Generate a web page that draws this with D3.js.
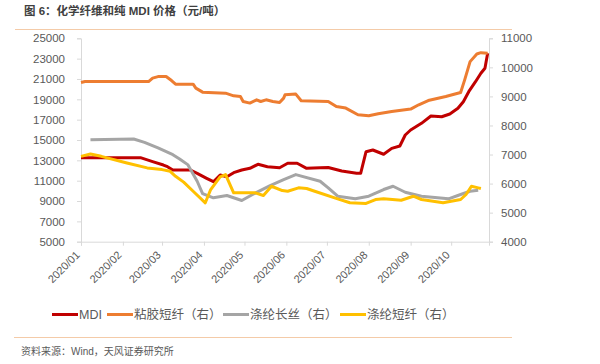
<!DOCTYPE html>
<html><head><meta charset="utf-8">
<script src="https://cdn.jsdelivr.net/npm/d3@7"></script>
<style>
body{margin:0;background:#fff;}
svg{display:block;font-family:"Liberation Sans","Noto Sans CJK SC",sans-serif;}
</style></head>
<body><svg id="c" width="600" height="364"></svg>
<script>
const title = "图 6：化学纤维和纯 MDI 价格（元/吨）";
const source = "资料来源：Wind，天风证券研究所";
const seriesNames = ["MDI","粘胶短纤（右）","涤纶长丝（右）","涤纶短纤（右）"];
const leftTicks = [5000,7000,9000,11000,13000,15000,17000,19000,21000,23000,25000];
const rightTicks = [4000,5000,6000,7000,8000,9000,10000,11000];
const monthTicks = ["2020-01-01","2020-02-01","2020-03-01","2020-04-01","2020-05-01","2020-06-01","2020-07-01","2020-08-01","2020-09-01","2020-10-01"];

const mdiDates = ["01-01","01-15","02-14","02-23","03-02","03-05","03-09","03-14","03-22","03-27","04-03","04-08","04-13","04-18","04-23","04-29","05-05","05-11","05-18","05-27","06-02","06-09","06-16","06-26","07-02","07-12","07-23","07-26","07-30","08-04","08-12","08-18","08-24","08-28","09-01","09-09","09-16","09-24","09-30","10-06","10-10","10-14","10-19","10-23","10-26","10-28"];
const mdiValues = [13260,13260,13260,12870,12540,12374,12050,12050,12050,11725,11234,10900,11558,11390,11785,12050,12217,12610,12374,12276,12710,12710,12217,12276,12300,11950,11725,11725,13850,14017,13600,14180,14410,15490,15983,16640,17360,17290,17556,18117,18766,19750,20732,21558,22050,23525];

const vscDates = ["01-01","01-04","02-20","02-23","02-27","03-04","03-08","03-11","03-24","03-26","03-31","04-17","04-23","04-28","04-30","05-05","05-10","05-13","05-17","05-22","05-27","05-30","05-31","06-08","06-12","07-02","07-08","07-15","07-24","08-01","08-08","08-18","09-01","09-07","09-14","09-27","10-08","10-11","10-15","10-20","10-23","10-28"];
const vscValues = [9477,9511,9511,9628,9683,9683,9545,9422,9422,9284,9147,9113,9020,8996,8825,8770,8883,8825,8883,8825,8790,8941,9055,9079,8849,8825,8653,8598,8368,8334,8403,8482,8564,8712,8859,8996,9133,9569,10197,10461,10506,10485];

const pfyDates = ["01-08","02-09","02-17","02-27","03-09","03-14","03-20","03-27","03-31","04-08","04-18","04-29","05-07","05-20","05-30","06-08","06-26","07-02","07-09","07-22","08-01","08-12","08-19","08-28","09-09","09-29","10-08","10-15","10-21"];
const pfyValues = [7511,7535,7418,7226,6996,6849,6653,6080,5658,5510,5589,5418,5624,5932,6137,6309,6080,5854,5565,5476,5565,5795,5908,5702,5565,5476,5624,5737,5771];

const psfDates = ["01-01","01-08","01-16","02-04","02-19","03-01","03-07","03-11","03-17","03-24","04-02","04-06","04-13","04-17","04-23","04-29","05-09","05-15","05-21","05-29","06-02","06-10","06-16","06-22","07-09","07-18","07-30","08-06","08-12","08-25","09-03","09-09","09-25","10-08","10-12","10-16","10-21","10-23"];
const psfValues = [6938,7020,6938,6711,6540,6481,6423,6251,6050,5737,5339,5795,6231,6310,5682,5682,5682,5589,5908,5761,5737,5853,5830,5737,5476,5339,5315,5452,5476,5428,5565,5452,5339,5452,5624,5908,5853,5830];

const colors = ["#C00000","#ED7D31","#A5A5A5","#FFC000"];

const parse = s => new Date("2020-" + s + "T00:00:00");
const svg = d3.select("#c");

const x = d3.scaleTime().domain([new Date("2020-01-01T00:00:00"), new Date("2020-10-29T00:00:00")]).range([81, 489]);
const yL = d3.scaleLinear().domain([5000,25000]).range([241.7, 38.3]);
const yR = d3.scaleLinear().domain([4000,11000]).range([241.7, 38.3]);

// header
svg.append("text").attr("x",24).attr("y",15).attr("font-size",11.5).attr("font-weight","bold")
  .attr("fill","#404040").text(title);
svg.append("line").attr("x1",15).attr("x2",512).attr("y1",29.5).attr("y2",29.5)
  .attr("stroke","#F4CBA8").attr("stroke-width",1);

// axes
const axisColor = "#D9D9D9", textColor = "#595959";
const gL = svg.append("g").attr("transform","translate(81,0)")
  .call(d3.axisLeft(yL).tickValues(leftTicks).tickSize(4).tickPadding(12).tickFormat(d3.format("d")));
const gR = svg.append("g").attr("transform","translate(489,0)")
  .call(d3.axisRight(yR).tickValues(rightTicks).tickSize(4).tickPadding(8).tickFormat(d3.format("d")));
const gX = svg.append("g").attr("transform","translate(0,241.7)")
  .call(d3.axisBottom(x).tickValues(monthTicks.map(s=>new Date(s+"T00:00:00"))).tickSize(4).tickFormat(d3.timeFormat("%Y/%m")));
[gL,gR,gX].forEach(g=>{
  g.select(".domain").attr("stroke",axisColor);
  g.selectAll(".tick line").attr("stroke",axisColor);
  g.selectAll(".tick text").attr("fill",textColor).attr("font-size",11.5)
    .attr("font-family","'Liberation Sans',sans-serif");
});
gX.selectAll(".tick text").attr("font-size",11).attr("text-anchor","end")
  .attr("dy",0).attr("y",0).attr("transform","translate(-1,14) rotate(-45)");

// lines
const seriesData = [
  {d:mdiDates, v:mdiValues, y:yL},
  {d:vscDates, v:vscValues, y:yR},
  {d:pfyDates, v:pfyValues, y:yR},
  {d:psfDates, v:psfValues, y:yR}
];
seriesData.forEach((s,i)=>{
  const pts = s.d.map((dd,j)=>({date:parse(dd), val:s.v[j]}));
  const line = d3.line().x(p=>x(p.date)).y(p=>s.y(p.val));
  svg.append("path").datum(pts).attr("d",line).attr("fill","none")
    .attr("stroke",colors[i]).attr("stroke-width",3).attr("stroke-linejoin","round");
});

// legend
const legendX = [52,107,223,340];
seriesNames.forEach((n,i)=>{
  const g = svg.append("g").attr("transform",`translate(${legendX[i]},314.5)`);
  g.append("line").attr("x1",0).attr("x2",26).attr("y1",0).attr("y2",0)
    .attr("stroke",colors[i]).attr("stroke-width",3);
  g.append("text").attr("x",27).attr("y",4.5).attr("font-size",12.5).attr("fill",textColor).text(n);
});

// footer
svg.append("line").attr("x1",14).attr("x2",512).attr("y1",337.5).attr("y2",337.5)
  .attr("stroke","#F4CBA8").attr("stroke-width",1);
svg.append("text").attr("x",21).attr("y",355).attr("font-size",10).attr("fill",textColor).text(source);
</script></body></html>
